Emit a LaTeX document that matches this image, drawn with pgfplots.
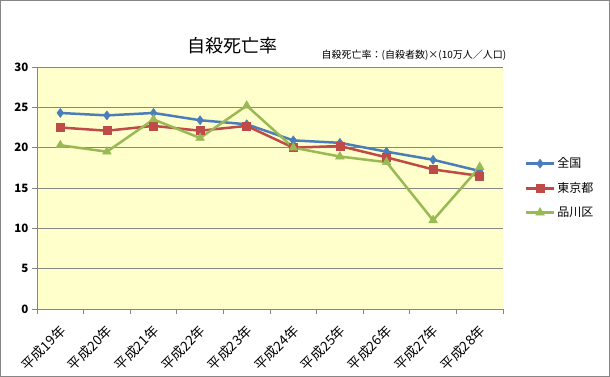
\documentclass[border=0pt]{standalone}
\usepackage{pgfplots}
\pgfplotsset{compat=1.18}
\usepackage{fontspec}
\setmainfont{Noto Sans CJK JP}
\definecolor{cblue}{HTML}{4A7EBB}
\definecolor{cred}{HTML}{BE4B48}
\definecolor{cgreen}{HTML}{98B954}
\definecolor{bgy}{HTML}{FFFFCC}
\definecolor{gridc}{HTML}{868686}
\begin{document}
\begin{tikzpicture}[x=1pt,y=1pt]
\draw[gridc,line width=1pt] (0.5,0.5) rectangle (609.5,376.5);
\node[font=\fontsize{18}{18}\selectfont] at (232,331) {自殺死亡率};
\node[font=\fontsize{10}{11}\selectfont] at (414,322) {自殺死亡率：(自殺者数)×(10万人／人口)};
\begin{axis}[
  at={(37pt,68pt)}, anchor=south west,
  scale only axis, width=466pt, height=242pt,
  xmin=-0.5, xmax=9.5, ymin=0, ymax=30,
  axis background/.style={fill=bgy},
  axis x line*=bottom, axis y line*=left,
  axis line style={gridc, line width=0.8pt},
  x axis line style={-}, y axis line style={-},
  xtick={0,...,9},
  xticklabels={平成19年,平成20年,平成21年,平成22年,平成23年,平成24年,平成25年,平成26年,平成27年,平成28年},
  major x tick style={draw=none},
  minor xtick={-0.5,0.5,...,9.5},
  minor x tick style={gridc, line width=0.8pt},
  minor tick length=5pt,
  tick align=outside,
  ytick={0,5,...,30},
  major tick length=5pt,
  y tick style={gridc, line width=0.8pt},
  ymajorgrids, grid style={gridc, line width=0.8pt},
  xticklabel style={rotate=45, anchor=east, font=\fontsize{13.5}{13.5}\selectfont, inner sep=1pt, xshift=-7pt, yshift=-12pt},
  yticklabel style={font=\bfseries\fontsize{11.5}{11.5}\selectfont},
  /pgf/number format/assume math mode=true,
  legend style={at={(1.04,0.50)}, anchor=west, draw=none, fill=none, font=\fontsize{12}{12}\selectfont, row sep=9pt},
  legend cell align=left,
  legend image code/.code={\draw[mark repeat=2,mark phase=2] plot coordinates {(0pt,0pt) (14pt,0pt) (28pt,0pt)};},
  clip=false,
]
\addplot[cblue, line width=2.5pt, mark=diamond*, mark size=4.5pt, mark options={line width=0.5pt}] coordinates {
(0,24.3) (1,24.0) (2,24.3) (3,23.4) (4,22.9) (5,20.9) (6,20.6) (7,19.5) (8,18.5) (9,17.1)};
\addlegendentry{全国}
\addplot[cred, line width=2.5pt, mark=square*, mark size=4pt, mark options={line width=0.5pt}] coordinates {
(0,22.5) (1,22.1) (2,22.7) (3,22.1) (4,22.7) (5,20.0) (6,20.2) (7,18.8) (8,17.3) (9,16.5)};
\addlegendentry{東京都}
\addplot[cgreen, line width=2.5pt, mark=triangle*, mark size=5pt, mark options={line width=0.5pt}] coordinates {
(0,20.3) (1,19.5) (2,23.5) (3,21.2) (4,25.2) (5,20.0) (6,18.9) (7,18.2) (8,11.0) (9,17.6)};
\addlegendentry{品川区}
\end{axis}
\end{tikzpicture}
\end{document}
